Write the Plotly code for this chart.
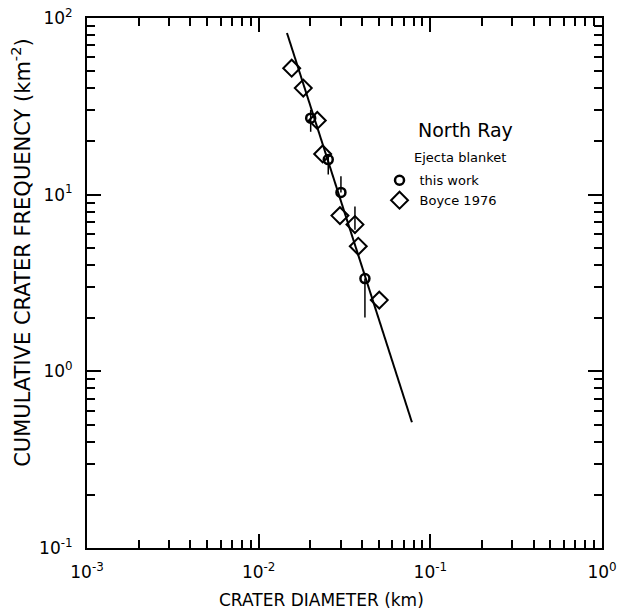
import plotly.graph_objects as go

# ---- data ----
boyce_x = [0.01557, 0.01819, 0.02195, 0.02359, 0.02975, 0.03638, 0.03803, 0.05040]
boyce_y = [52.0, 40.1, 26.3, 17.0, 7.61, 6.77, 5.10, 2.53]
boyce_err_plus = [0, 0, 0, 0, 0, 1.8, 0, 0]
boyce_err_minus = [0, 0, 0, 0, 0, 0.43, 0, 0]

work_x = [0.02009, 0.02543, 0.03015, 0.04159]
work_y = [27.1, 15.8, 10.3, 3.35]
work_err_plus = [3.1, 0.6, 2.4, 0.0]
work_err_minus = [4.4, 2.8, 0.0, 1.33]

fit_x = [0.01462, 0.0781]
fit_y = [82.3, 0.515]

x_tickvals = [1e-3, 1e-2, 1e-1, 1]
x_ticktext = ["10<sup>-3</sup>", "10<sup>-2</sup>", "10<sup>-1</sup>", "10<sup>0</sup>"]
y_tickvals = [1e-1, 1, 10, 100]
y_ticktext = ["10<sup>-1</sup>", "10<sup>0</sup>", "10<sup>1</sup>", "10<sup>2</sup>"]
minor_digits = [2, 3, 4, 5, 6, 7, 8, 9]

FONT = "DejaVu Sans"


def minor_vals(lo_exp, hi_exp):
    return [d * 10.0 ** e for e in range(lo_exp, hi_exp) for d in minor_digits]


fig = go.Figure()
fig.add_trace(go.Scatter(
    x=fit_x, y=fit_y, mode="lines",
    line=dict(color="black", width=2), showlegend=False, hoverinfo="skip"))
fig.add_trace(go.Scatter(
    x=work_x, y=work_y, mode="markers", name="this work",
    marker=dict(symbol="circle-open", size=9, color="black", line=dict(width=2.5)),
    error_y=dict(type="data", symmetric=False, array=work_err_plus,
                 arrayminus=work_err_minus, width=0, thickness=1.5, color="black")))
fig.add_trace(go.Scatter(
    x=boyce_x, y=boyce_y, mode="markers", name="Boyce 1976",
    marker=dict(symbol="diamond-open", size=13, color="black", line=dict(width=2)),
    error_y=dict(type="data", symmetric=False, array=boyce_err_plus,
                 arrayminus=boyce_err_minus, width=0, thickness=1.5, color="black")))

axis_common = dict(
    type="log", showgrid=False, zeroline=False, automargin=False,
    showline=True, linecolor="black", linewidth=2, mirror="ticks",
    ticks="inside", ticklen=14, tickwidth=2, tickcolor="black",
    ticklabeloverflow="allow",
    tickfont=dict(family=FONT, size=17, color="black"),
)

fig.update_xaxes(range=[-3, 0], tickvals=x_tickvals, ticktext=x_ticktext,
                 ticklabelstandoff=8,
                 minor=dict(tickmode="array", tickvals=minor_vals(-3, 0), ticks="inside",
                            ticklen=8, tickwidth=2, tickcolor="black", showgrid=False),
                 **axis_common)
fig.update_yaxes(range=[-1, 2], tickvals=y_tickvals, ticktext=y_ticktext,
                 ticklabelstandoff=9,
                 minor=dict(tickmode="array", tickvals=minor_vals(-1, 2), ticks="inside",
                            ticklen=8, tickwidth=2, tickcolor="black", showgrid=False),
                 **axis_common)

# axis titles placed as in the reference (slightly off-centre)
fig.add_annotation(x=0.456, y=-0.099, xref="paper", yref="paper",
                   text="CRATER DIAMETER (km)", showarrow=False,
                   xanchor="center", yanchor="middle",
                   font=dict(family=FONT, size=17, color="black"))
fig.add_annotation(x=-0.127, y=0.558, xref="paper", yref="paper",
                   text="CUMULATIVE CRATER FREQUENCY (km<sup>-2</sup>)", showarrow=False,
                   textangle=-90, xanchor="center", yanchor="middle", borderpad=0,
                   font=dict(family=FONT, size=21, color="black"))

fig.add_annotation(x=0.638, y=0.788, xref="paper", yref="paper", text="North Ray",
                   showarrow=False, xanchor="left", yanchor="middle",
                   font=dict(family=FONT, size=19, color="black"))
fig.add_annotation(x=0.632, y=0.737, xref="paper", yref="paper", text="Ejecta blanket",
                   showarrow=False, xanchor="left", yanchor="middle",
                   font=dict(family=FONT, size=13, color="black"))

# the page body adds an 8px offset; the plot area is placed to match the reference window
fig.update_layout(
    width=620, height=602,
    margin=dict(l=79, r=26, t=10, b=62),
    paper_bgcolor="white", plot_bgcolor="white",
    font=dict(family=FONT, color="black"),
    legend=dict(x=0.568, y=0.722, xanchor="left", yanchor="top",
                bgcolor="rgba(0,0,0,0)", borderwidth=0, itemwidth=30,
                font=dict(family=FONT, size=13, color="black"),
                tracegroupgap=0),
)

fig.write_html("out.html")
